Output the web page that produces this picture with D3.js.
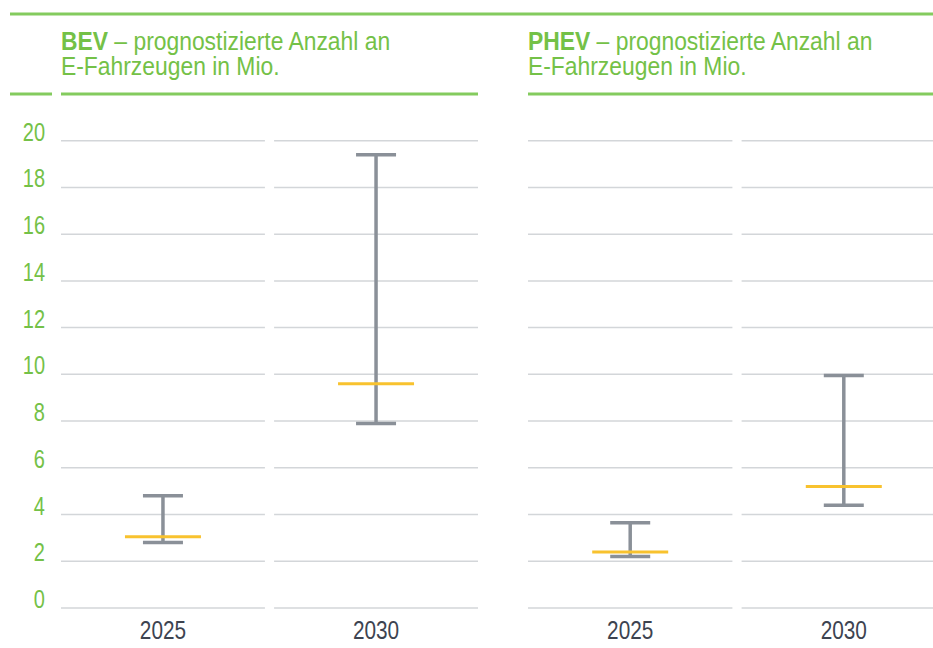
<!DOCTYPE html>
<html>
<head>
<meta charset="utf-8">
<script src="https://d3js.org/d3.v7.min.js"></script>
<style>
  body { margin: 0; background: #fff; }
  text { font-family: "Liberation Sans", Arial, sans-serif; }
</style>
</head>
<body>
<div id="chart"></div>
<script>
// values in millions
var years = ['2025', '2030'];
var yTicks = [0, 2, 4, 6, 8, 10, 12, 14, 16, 18, 20];
var bevLow  = [2.8, 7.9],  bevHigh  = [4.8, 19.4], bevMid  = [3.05, 9.6];
var phevLow = [2.2, 4.4],  phevHigh = [3.65, 9.95], phevMid = [2.4, 5.2];
var panelNames = ['BEV', 'PHEV'];

var width = 933, height = 648;
var green = '#74c147', lineGreen = '#84cb5e', grid = '#d3d6d9',
    barGrey = '#8a9098', yellow = '#f8c22e', labelDark = '#3d4350';
var squeeze = 0.8; // condensed look, no narrow font installed

var svg = d3.select('#chart').append('svg')
  .attr('width', width)
  .attr('height', height);

var y = d3.scaleLinear().domain([0, 20]).range([608, 140.7]);

var panels = [
  {name: panelNames[0], low: bevLow, high: bevHigh, mid: bevMid, x0: 61, x1: 478, titleX: 61},
  {name: panelNames[1], low: phevLow, high: phevHigh, mid: phevMid, x0: 528, x1: 946, titleX: 528}
];

// top rule
svg.append('line')
  .attr('x1', 10).attr('x2', width)
  .attr('y1', 14).attr('y2', 14)
  .attr('stroke', lineGreen).attr('stroke-width', 3);

// short rule over the y labels
svg.append('line')
  .attr('x1', 10).attr('x2', 52)
  .attr('y1', 94).attr('y2', 94)
  .attr('stroke', lineGreen).attr('stroke-width', 3);

// y labels
svg.selectAll('.ylab')
  .data(yTicks)
  .enter().append('g')
  .attr('class', 'ylab')
  .attr('transform', function(d) { return 'translate(45,' + y(d) + ') scale(' + squeeze + ',1)'; })
  .append('text')
  .attr('text-anchor', 'end')
  .attr('fill', green)
  .style('font-size', '25px')
  .text(function(d) { return d; });

panels.forEach(function(p) {
  var g = svg.append('g');
  var x = d3.scaleBand().domain(years).range([p.x0, p.x1]).paddingInner(0.043);

  // title, two lines in one text
  var t = g.append('g')
    .attr('transform', 'translate(' + p.titleX + ',0) scale(0.88,1)')
    .append('text')
    .attr('y', 50)
    .attr('fill', green)
    .style('font-size', '26px');
  var l1 = t.append('tspan').attr('x', 0);
  l1.append('tspan').attr('font-weight', 'bold').text(p.name);
  l1.append('tspan').text(' \u2013 prognostizierte Anzahl an');
  t.append('tspan').attr('x', 0).attr('dy', 25).text('E-Fahrzeugen in Mio.');

  g.append('line')
    .attr('x1', p.x0).attr('x2', Math.min(p.x1, width))
    .attr('y1', 94).attr('y2', 94)
    .attr('stroke', lineGreen).attr('stroke-width', 3);

  // gridlines, broken between the two years
  years.forEach(function(yr) {
    g.selectAll(null)
      .data(yTicks)
      .enter().append('line')
      .attr('x1', x(yr)).attr('x2', x(yr) + x.bandwidth())
      .attr('y1', function(d) { return y(d); })
      .attr('y2', function(d) { return y(d); })
      .attr('stroke', grid).attr('stroke-width', 1.5);
  });

  // ranges
  var cx = function(i) { return x(years[i]) + x.bandwidth() / 2; };
  years.forEach(function(yr, i) {
    g.append('line')
      .attr('x1', cx(i)).attr('x2', cx(i))
      .attr('y1', y(p.low[i])).attr('y2', y(p.high[i]))
      .attr('stroke', barGrey).attr('stroke-width', 3.5);
    [p.low[i], p.high[i]].forEach(function(v) {
      g.append('line')
        .attr('x1', cx(i) - 20).attr('x2', cx(i) + 20)
        .attr('y1', y(v)).attr('y2', y(v))
        .attr('stroke', barGrey).attr('stroke-width', 3.5);
    });
    g.append('line')
      .attr('x1', cx(i) - 38).attr('x2', cx(i) + 38)
      .attr('y1', y(p.mid[i])).attr('y2', y(p.mid[i]))
      .attr('stroke', yellow).attr('stroke-width', 3);

    g.append('g')
      .attr('transform', 'translate(' + cx(i) + ',639) scale(' + squeeze + ',1)')
      .append('text')
      .attr('text-anchor', 'middle')
      .attr('fill', labelDark)
      .style('font-size', '26px')
      .text(yr);
  });
});
</script>
</body>
</html>
